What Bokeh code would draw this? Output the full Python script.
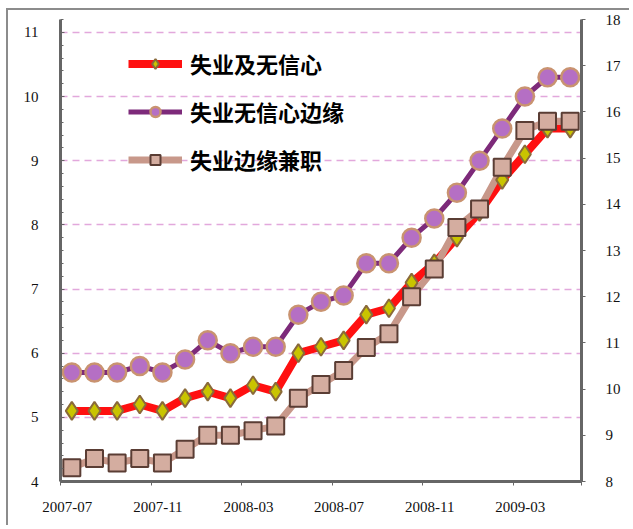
from bokeh.plotting import figure
from bokeh.models import (Range1d, LinearAxis, FixedTicker, SingleIntervalTicker,
                          Legend, LegendItem)
from bokeh.embed import file_html
from bokeh.resources import INLINE

# ---- data ----
months = ["2007-07", "2007-08", "2007-09", "2007-10", "2007-11", "2007-12",
          "2008-01", "2008-02", "2008-03", "2008-04", "2008-05", "2008-06",
          "2008-07", "2008-08", "2008-09", "2008-10", "2008-11", "2008-12",
          "2009-01", "2009-02", "2009-03", "2009-04", "2009-05"]
tick_labels = ["2007-07", "2007-11", "2008-03", "2008-07", "2008-11", "2009-03"]

names = ["失业及无信心", "失业无信心边缘", "失业边缘兼职"]
u_discouraged = [5.1, 5.1, 5.1, 5.2, 5.1, 5.3, 5.4, 5.3, 5.5, 5.4, 6.0, 6.1,
                 6.2, 6.6, 6.7, 7.1, 7.4, 7.8, 8.2, 8.7, 9.1, 9.5, 9.5]
u_marginal = [5.7, 5.7, 5.7, 5.8, 5.7, 5.9, 6.2, 6.0, 6.1, 6.1, 6.6, 6.8,
              6.9, 7.4, 7.4, 7.8, 8.1, 8.5, 9.0, 9.5, 10.0, 10.3, 10.3]
u_parttime = [8.3, 8.5, 8.4, 8.5, 8.4, 8.7, 9.0, 9.0, 9.1, 9.2, 9.8, 10.1,
              10.4, 10.9, 11.2, 12.0, 12.6, 13.5, 13.9, 14.8, 15.6, 15.8, 15.8]

x = list(range(len(months)))

AXIS_COL = "#666666"
FONT = "Liberation Serif"

p = figure(width=623, height=517, output_backend="svg", toolbar_location=None,
           x_range=Range1d(-0.5, len(months) - 0.5), y_range=Range1d(4, 11.2),
           min_border_left=52, min_border_right=50, min_border_top=9,
           min_border_bottom=46, y_axis_location=None, x_axis_location=None)
p.styles = {"margin-left": "6px", "margin-top": "8px",
            "border-left": "2px solid #8c8c8c", "border-top": "2px solid #8c8c8c"}
p.outline_line_alpha = 0
p.background_fill_color = "white"
p.border_fill_color = "white"
p.extra_y_ranges = {"right": Range1d(8, 18)}

# left axis
la = LinearAxis(ticker=SingleIntervalTicker(interval=1, num_minor_ticks=5))
la.axis_line_color = AXIS_COL
la.axis_line_width = 3
la.major_tick_in = 4
la.major_tick_out = 0
la.minor_tick_in = 3
la.minor_tick_out = 0
la.major_tick_line_color = AXIS_COL
la.minor_tick_line_color = AXIS_COL
la.major_label_standoff = 22
la.major_label_text_font = FONT
la.major_label_text_font_size = "15px"
la.major_label_text_color = "#111111"
p.add_layout(la, "left")

# right axis
ra = LinearAxis(y_range_name="right", ticker=SingleIntervalTicker(interval=1, num_minor_ticks=0))
ra.axis_line_color = AXIS_COL
ra.axis_line_width = 3
ra.major_tick_in = 0
ra.major_tick_out = 4
ra.minor_tick_line_color = None
ra.major_tick_line_color = AXIS_COL
ra.major_label_standoff = 20
ra.major_label_text_font = FONT
ra.major_label_text_font_size = "15px"
ra.major_label_text_color = "#111111"
p.add_layout(ra, "right")

# bottom axis
label_pos = [months.index(t) - 0.2 for t in tick_labels]
bound_pos = [months.index(t) - 0.5 for t in tick_labels] + [len(months) - 0.5]
ba = LinearAxis(ticker=FixedTicker(ticks=label_pos, minor_ticks=bound_pos))
ba.major_label_overrides = {pos: t for pos, t in zip(label_pos, tick_labels)}
ba.axis_line_color = AXIS_COL
ba.axis_line_width = 3
ba.major_tick_in = 0
ba.major_tick_out = 0
ba.minor_tick_in = 0
ba.minor_tick_out = 4
ba.minor_tick_line_color = AXIS_COL
ba.minor_tick_line_width = 1
ba.major_label_standoff = 16
ba.major_label_text_font = FONT
ba.major_label_text_font_size = "15px"
ba.major_label_text_color = "#111111"
p.add_layout(ba, "below")

# grid
p.ygrid.ticker = FixedTicker(ticks=[5, 6, 7, 8, 9, 10, 11])
p.ygrid.grid_line_color = "#e2a8dc"
p.ygrid.grid_line_width = 1.5
p.ygrid.grid_line_dash = "7 5"
p.xgrid.visible = False

# series
r1l = p.line(x, u_discouraged, line_color="#ff1010", line_width=8)
r3l = p.line(x, u_parttime, line_color="#c8988a", line_width=7, y_range_name="right")
r2l = p.line(x, u_marginal, line_color="#7d2a7a", line_width=5)

r1s = p.scatter(x, u_discouraged, marker="diamond", size=18, fill_color="#c9c400",
                line_color="#8a6a3a", line_width=2)
r3s = p.scatter(x, u_parttime, marker="square", size=17, fill_color="#d4ada0",
                line_color="#5a3d34", line_width=2, y_range_name="right")
r2s = p.scatter(x, u_marginal, marker="circle", size=18, fill_color="#b56fc4",
                line_color="#c99370", line_width=2.5)

legend = Legend(items=[LegendItem(label=names[0], renderers=[r1l, r1s]),
                       LegendItem(label=names[1], renderers=[r2l, r2s]),
                       LegendItem(label=names[2], renderers=[r3l, r3s])],
                location=(68, 306))
legend.background_fill_alpha = 0
legend.border_line_alpha = 0
legend.padding = 0
legend.margin = 0
legend.spacing = 16
legend.glyph_width = 54
legend.glyph_height = 25
legend.label_height = 25
legend.label_standoff = 8
legend.label_text_font = "Noto Sans CJK SC"
legend.label_text_font_style = "bold"
legend.label_text_font_size = "22px"
legend.label_text_color = "#000000"
p.add_layout(legend)

open("out.html", "w").write(file_html(p, INLINE))
